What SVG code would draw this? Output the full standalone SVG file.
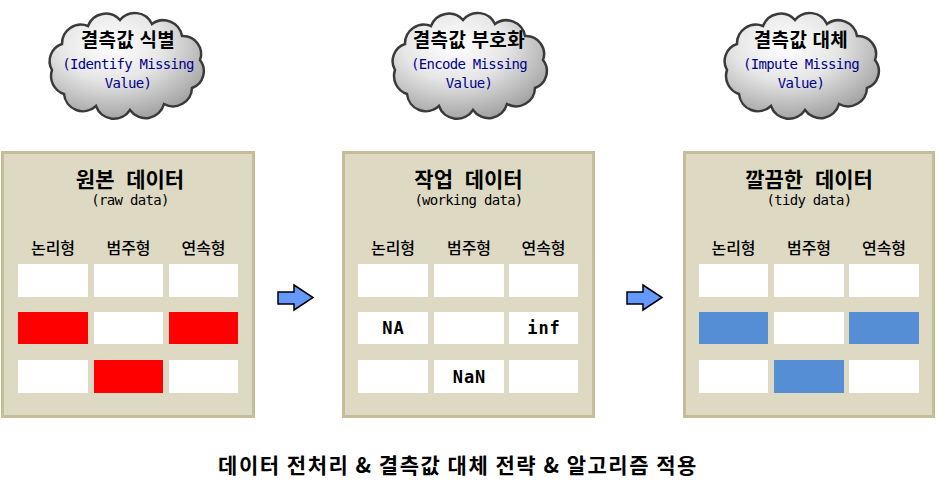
<svg xmlns="http://www.w3.org/2000/svg" width="938" height="484" viewBox="0 0 938 484">
  <defs>
    <radialGradient id="cloudGrad" cx="40%" cy="30%" r="75%">
      <stop offset="0" stop-color="#ffffff"/>
      <stop offset="0.45" stop-color="#e6e6e6"/>
      <stop offset="1" stop-color="#9c9c9c"/>
    </radialGradient>
    <path id="cloudShape" d="M-62,30 A19,19 0 0 1 -74,6 A18,18 0 0 1 -64,-20 A19,19 0 0 1 -38,-38 A19,19 0 0 1 -6,-44 A19,19 0 0 1 26,-40 A19,19 0 0 1 56,-28 A18,18 0 0 1 74,-4 A18,18 0 0 1 66,24 A19,19 0 0 1 38,40 A19,19 0 0 1 4,46 A19,19 0 0 1 -30,42 A19,19 0 0 1 -62,30 Z"/>
    <path id="arrowShape" d="M0,7 L16,7 L16,0 L35,12.5 L16,25 L16,19 L0,19 Z"/>
  </defs>
  <style>
    .cloud { fill: url(#cloudGrad); stroke: #3a3a3a; stroke-width: 2.5; }
    .ctitle { font-family: "Noto Sans CJK KR", sans-serif; font-weight: bold; font-size: 19px; letter-spacing: 0.5px; fill: #000; text-anchor: middle; }
    .csub { font-family: "DejaVu Sans Mono", "Liberation Mono", monospace; font-size: 14px; letter-spacing: -0.7px; fill: #00008b; text-anchor: middle; }
    .panel { fill: #ddd9c3; stroke: #c4bd97; stroke-width: 3; }
    .ptitle { font-family: "Noto Sans CJK KR", sans-serif; font-weight: bold; font-size: 21px; word-spacing: 7px; fill: #000; text-anchor: middle; }
    .psub { font-family: "DejaVu Sans Mono", "Liberation Mono", monospace; font-size: 14px; letter-spacing: -0.7px; fill: #000; text-anchor: middle; }
    .colh { font-family: "Noto Sans CJK KR", sans-serif; font-weight: 500; font-size: 16px; fill: #000; text-anchor: middle; }
    .cell { fill: #ffffff; }
    .red { fill: #ff0000; }
    .blue { fill: #558ed5; }
    .val { font-family: "DejaVu Sans Mono", "Liberation Mono", monospace; font-weight: bold; font-size: 17px; letter-spacing: 1px; fill: #000; text-anchor: middle; }
    .arrow { fill: #6699ff; stroke: #000; stroke-width: 1.5; stroke-linejoin: miter; }
    .footer { font-family: "Noto Sans CJK KR", sans-serif; font-weight: bold; font-size: 21px; letter-spacing: 1.5px; fill: #000; text-anchor: middle; }
  </style>

  <g id="cloud1">
    <use href="#cloudShape" class="cloud" transform="translate(126,64)"/>
    <text class="ctitle" x="128" y="47">결측값 식별</text>
    <text class="csub" x="128" y="69">(Identify Missing</text>
    <text class="csub" x="128" y="88">Value)</text>
  </g>
  <g id="cloud2">
    <use href="#cloudShape" class="cloud" transform="translate(469,64)"/>
    <text class="ctitle" x="469" y="47">결측값 부호화</text>
    <text class="csub" x="469" y="69">(Encode Missing</text>
    <text class="csub" x="469" y="88">Value)</text>
  </g>
  <g id="cloud3">
    <use href="#cloudShape" class="cloud" transform="translate(801,64)"/>
    <text class="ctitle" x="801" y="47">결측값 대체</text>
    <text class="csub" x="801" y="69">(Impute Missing</text>
    <text class="csub" x="801" y="88">Value)</text>
  </g>

  <g id="panel-raw">
    <rect class="panel" x="2.5" y="152.5" width="251" height="264"/>
    <text class="ptitle" x="130" y="187">원본 데이터</text>
    <text class="psub" x="130" y="205">(raw data)</text>
    <text class="colh" x="53" y="254">논리형</text>
    <text class="colh" x="128.5" y="254">범주형</text>
    <text class="colh" x="203.5" y="254">연속형</text>
    <rect class="cell" x="18" y="264" width="70" height="33"/>
    <rect class="cell" x="94" y="264" width="69" height="33"/>
    <rect class="cell" x="169" y="264" width="69" height="33"/>
    <rect class="red" x="18" y="312" width="70" height="32"/>
    <rect class="cell" x="94" y="312" width="69" height="32"/>
    <rect class="red" x="169" y="312" width="69" height="32"/>
    <rect class="cell" x="18" y="360" width="70" height="33"/>
    <rect class="red" x="94" y="360" width="69" height="33"/>
    <rect class="cell" x="169" y="360" width="69" height="33"/>
  </g>

  <g id="panel-working">
    <rect class="panel" x="343.5" y="152.5" width="250" height="264"/>
    <text class="ptitle" x="468.5" y="187">작업 데이터</text>
    <text class="psub" x="468.5" y="205">(working data)</text>
    <text class="colh" x="393" y="254">논리형</text>
    <text class="colh" x="469" y="254">범주형</text>
    <text class="colh" x="543.5" y="254">연속형</text>
    <rect class="cell" x="358" y="264" width="70" height="33"/>
    <rect class="cell" x="434" y="264" width="70" height="33"/>
    <rect class="cell" x="509" y="264" width="69" height="33"/>
    <rect class="cell" x="358" y="312" width="70" height="32"/>
    <rect class="cell" x="434" y="312" width="70" height="32"/>
    <rect class="cell" x="509" y="312" width="69" height="32"/>
    <rect class="cell" x="358" y="360" width="70" height="33"/>
    <rect class="cell" x="434" y="360" width="70" height="33"/>
    <rect class="cell" x="509" y="360" width="69" height="33"/>
    <text class="val" x="393.5" y="334">NA</text>
    <text class="val" x="469.5" y="383">NaN</text>
    <text class="val" x="544" y="334">inf</text>
  </g>

  <g id="panel-tidy">
    <rect class="panel" x="684.5" y="152.5" width="249" height="264"/>
    <text class="ptitle" x="809" y="187">깔끔한 데이터</text>
    <text class="psub" x="809" y="205">(tidy data)</text>
    <text class="colh" x="733.5" y="254">논리형</text>
    <text class="colh" x="809" y="254">범주형</text>
    <text class="colh" x="884" y="254">연속형</text>
    <rect class="cell" x="699" y="264" width="69" height="33"/>
    <rect class="cell" x="774" y="264" width="70" height="33"/>
    <rect class="cell" x="849" y="264" width="70" height="33"/>
    <rect class="blue" x="699" y="312" width="69" height="32"/>
    <rect class="cell" x="774" y="312" width="70" height="32"/>
    <rect class="blue" x="849" y="312" width="70" height="32"/>
    <rect class="cell" x="699" y="360" width="69" height="33"/>
    <rect class="blue" x="774" y="360" width="70" height="33"/>
    <rect class="cell" x="849" y="360" width="70" height="33"/>
  </g>

  <g id="connectors">
    <use href="#arrowShape" class="arrow" transform="translate(278,285)"/>
    <use href="#arrowShape" class="arrow" transform="translate(627,285)"/>
  </g>

  <g id="caption">
    <text class="footer" x="458" y="473">데이터 전처리 &amp; 결측값 대체 전략 &amp; 알고리즘 적용</text>
  </g>
</svg>
